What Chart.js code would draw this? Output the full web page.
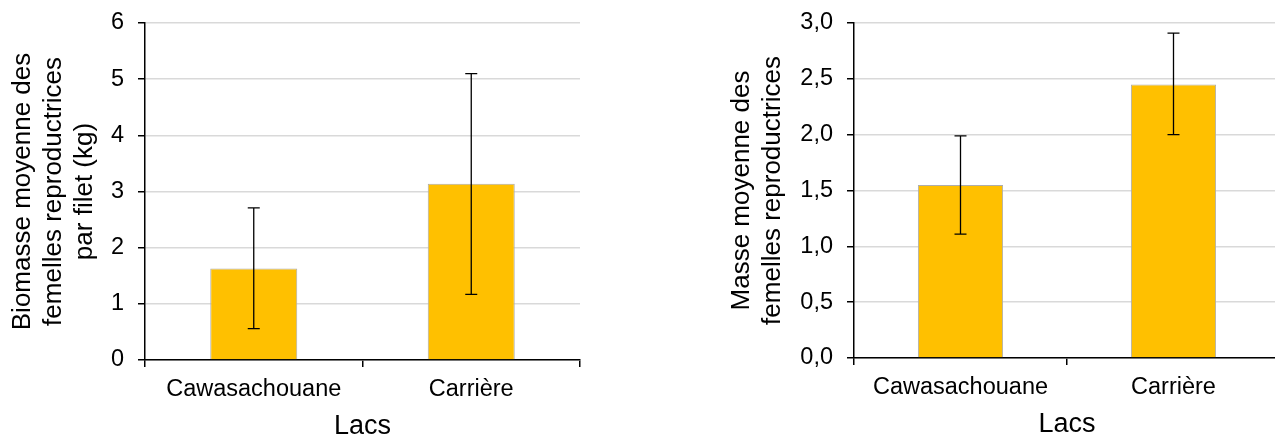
<!DOCTYPE html>
<html>
<head>
<meta charset="utf-8">
<script src="https://cdn.jsdelivr.net/npm/chart.js@4"></script>
<style>
	html, body { margin: 0; padding: 0; background: #fff; overflow: hidden; }
	body { width: 1275px; height: 438px; position: relative; }
	canvas { position: absolute; top: 0; }
	#BiomasseChart { left: 0; }
	#MasseChart { left: 700px; }
</style>
</head>
<body>
<canvas id="BiomasseChart" width="600" height="438"></canvas>
<canvas id="MasseChart" width="580" height="438"></canvas>
<script>

// DATA
const lacs = ["Cawasachouane", "Carrière"];

const biomasse = [1.63, 3.14];
const biomasseBas = [0.56, 1.17];
const biomasseHaut = [2.71, 5.10];

const masse = [1.55, 2.45];
const masseBas = [1.11, 2.00];
const masseHaut = [1.99, 2.91];

const fontFamily = "'Liberation Sans', Arial, sans-serif";


// ERROR BARS (drawn through the scales)
const errorBars = {
	id: "errorBars",
	afterDatasetsDraw(chart, args, opts) {
		const { ctx, scales } = chart;
		const meta = chart.getDatasetMeta(0);
		ctx.save();
		ctx.strokeStyle = "#000";
		ctx.lineWidth = 1.3;
		meta.data.forEach((bar, i) => {
			const x = bar.x;
			const yLow = scales.y.getPixelForValue(opts.low[i]);
			const yHigh = scales.y.getPixelForValue(opts.high[i]);
			ctx.beginPath();
			ctx.moveTo(x, yLow);
			ctx.lineTo(x, yHigh);
			ctx.moveTo(x - 6, yLow);
			ctx.lineTo(x + 6, yLow);
			ctx.moveTo(x - 6, yHigh);
			ctx.lineTo(x + 6, yHigh);
			ctx.stroke();
		});
		ctx.restore();
	},
};


function createChart(chartID, values, low, high, settings) {
	return new Chart(document.getElementById(chartID), {
		type: "bar",
		plugins: [errorBars],
		data: {
			labels: lacs,
			datasets: [
				{
					data: values,
					backgroundColor: "#FFC000",
					borderColor: "#adadad",
					borderWidth: 1,
					barPercentage: 0.4,
					categoryPercentage: 1,
				},
			],
		},
		options: {
			responsive: false,
			animation: false,
			layout: {
				padding: { top: settings.padTop, right: settings.padRight, bottom: 0, left: 0 },
			},
			plugins: {
				legend: { display: false },
				tooltip: { enabled: false },
				errorBars: { low: low, high: high },
			},
			scales: {
				x: {
					afterFit: (scale) => { scale.height = settings.xHeight; },
					grid: {
						offset: true,
						drawOnChartArea: false,
						color: "#000",
						tickLength: 7,
						lineWidth: 1.5,
					},
					border: { color: "#000", width: 1.5 },
					ticks: {
						color: "#000",
						padding: 8,
						font: { family: fontFamily, size: 23.5 },
					},
					title: {
						display: true,
						text: "Lacs",
						color: "#000",
						padding: { top: 0, bottom: settings.xTitlePad },
						font: { family: fontFamily, size: 27, lineHeight: 1.2 },
					},
				},
				y: {
					min: 0,
					max: settings.max,
					afterFit: (scale) => {
						scale.width = settings.yWidth;
						// let the layout padding decide where the plot starts
						scale.paddingTop = 0;
						scale.paddingBottom = 0;
					},
					grid: {
						color: "#d9d9d9",
						lineWidth: 1.5,
						tickColor: "#000",
						tickLength: 7,
					},
					border: { color: "#000", width: 1.5 },
					ticks: {
						stepSize: settings.step,
						color: "#000",
						padding: 14,
						font: { family: fontFamily, size: 23.5 },
						callback: settings.format,
					},
					title: {
						display: true,
						text: settings.title,
						color: "#000",
						padding: { top: settings.yTitlePad, bottom: 0 },
						font: { family: fontFamily, size: 26, lineHeight: 1.2 },
					},
				},
			},
		},
	});
}


createChart("BiomasseChart", biomasse, biomasseBas, biomasseHaut, {
	max: 6,
	step: 1,
	format: (v) => v,
	title: ["Biomasse moyenne des", "femelles reproductrices", "par filet (kg)"],
	yWidth: 145,
	yTitlePad: 7,
	xHeight: 78,
	xTitlePad: -5,
	padTop: 23,
	padRight: 20,
});

createChart("MasseChart", masse, masseBas, masseHaut, {
	max: 3,
	step: 0.5,
	format: (v) => v.toFixed(1).replace(".", ","),
	title: ["Masse moyenne des", "femelles reproductrices"],
	yWidth: 154,
	yTitlePad: 26,
	xHeight: 80,
	xTitlePad: -3,
	padTop: 23,
	padRight: 0,
});

</script>
</body>
</html>
